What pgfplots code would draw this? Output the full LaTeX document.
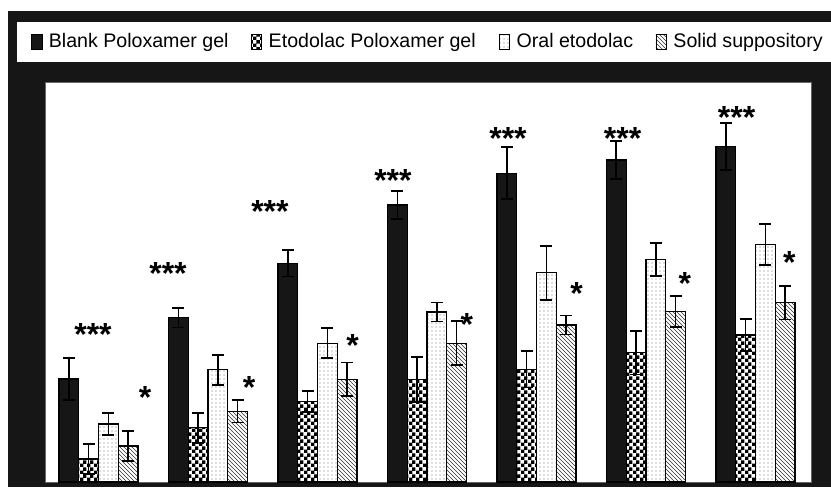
\documentclass[border=0pt]{standalone}
\usepackage{fontspec}
\setmainfont{Liberation Sans}
\usepackage{pgfplots}
\usepackage{pgfplotstable}
\pgfplotsset{compat=1.18}
\usetikzlibrary{patterns}
\definecolor{blk}{RGB}{22,22,22}
\pgfdeclarepatternformonly{mycheck}{\pgfpointorigin}{\pgfqpoint{5pt}{5pt}}{\pgfqpoint{5pt}{5pt}}{%
  \pgfpathrectangle{\pgfpointorigin}{\pgfqpoint{2.6pt}{2.6pt}}%
  \pgfpathrectangle{\pgfqpoint{2.5pt}{2.5pt}}{\pgfqpoint{2.6pt}{2.6pt}}%
  \pgfusepath{fill}}

\pgfplotstableread{
x y e
1 103.0 20.7
2 164.3 9.7
3 218.7 13.3
4 277.0 14.3
5 308.7 26.0
6 322.0 19.3
7 335.3 23.4
}\blank
\pgfplotstableread{
x y e
1 23.0 14.7
2 54.3 15.0
3 80.7 10.6
4 102.7 22.6
5 112.7 18.3
6 129.3 21.7
7 147.0 15.7
}\etogel
\pgfplotstableread{
x y e
1 58.0 11.0
2 112.3 15.0
3 138.7 15.0
4 170.0 9.5
5 209.3 27.0
6 222.3 16.5
7 237.7 20.5
}\oral
\pgfplotstableread{
x y e
1 36.0 15.0
2 70.7 11.3
3 102.7 16.8
4 138.7 22.0
5 157.0 9.5
6 170.3 15.5
7 179.3 16.8
}\supp

\begin{document}
\begin{tikzpicture}
\path (-33.75pt,-3.75pt) rectangle (589.5pt,361.5pt);
\fill[blk] (-27.75pt,-3.75pt) rectangle (589.5pt,353.25pt);
\fill[white] (-21pt,315pt) rectangle (589.5pt,345pt);
\begin{axis}[
  scale only axis, width=574.5pt, height=300pt,
  xmin=0.5114, xmax=7.507, ymin=0, ymax=400,
  axis background/.style={fill=white},
  axis line style={black!60, line width=0.5pt},
  xtick=\empty, ytick=\empty,
  ybar, bar width=0.1804,
  clip=false,
  myleg/.style={legend image code/.code={\draw[##1, line width=0.6pt] (0pt,-1pt) rectangle (7.9pt,10.3pt);}},
  myerr/.style={error bars/.cd, y dir=both, y explicit,
    error bar style={line width=1.3pt, black},
    error mark options={black, line width=1.3pt, mark size=4.5pt, rotate=90}},
  legend columns=4,
  legend style={at={(axis description cs:-0.01828,1.1007)}, anchor=west,
    draw=none, fill=none, inner sep=0pt, outer sep=0pt,
    font=\fontsize{14.7}{17}\selectfont,
    cells={anchor=base west},
    nodes={inner sep=0pt},
    /tikz/every odd column/.append style={column sep=4.9pt},
    /tikz/every even column/.append style={column sep=0pt}},
]
\addplot[bar shift=-0.2706, draw=black, line width=1.1pt, fill=blk, myleg, myerr]
  table[x=x, y=y, y error=e]{\blank};
\addlegendentry{\makebox[151.5pt][l]{Blank Poloxamer gel}}
\addplot[bar shift=-0.0902, draw=black, line width=1.1pt, pattern=mycheck, pattern color=black, myleg, myerr]
  table[x=x, y=y, y error=e]{\etogel};
\addlegendentry{\makebox[172.5pt][l]{Etodolac Poloxamer gel}}
\addplot[bar shift=0.0902, draw=black, line width=1.1pt, pattern=dots, pattern color=black!55, myleg, myerr]
  table[x=x, y=y, y error=e]{\oral};
\addlegendentry{\makebox[104.25pt][l]{Oral etodolac}}
\addplot[bar shift=0.2706, draw=black, line width=1.1pt, pattern=north west lines, pattern color=black!80, myleg, myerr]
  table[x=x, y=y, y error=e]{\supp};
\addlegendentry{Solid suppository}

\begin{scope}[every node/.style={font=\fontsize{24}{30}\selectfont\bfseries, anchor=north, inner sep=0pt}]
\node at (axis cs:0.95,159) {***};
\node at (axis cs:1.425,96) {*};
\node at (axis cs:1.635,220) {***};
\node at (axis cs:2.376,106) {*};
\node at (axis cs:2.566,282) {***};
\node at (axis cs:3.321,148) {*};
\node at (axis cs:3.689,313) {***};
\node at (axis cs:4.363,169) {*};
\node at (axis cs:4.740,355) {***};
\node at (axis cs:5.367,200) {*};
\node at (axis cs:5.787,355) {***};
\node at (axis cs:6.356,210) {*};
\node at (axis cs:6.828,376) {***};
\node at (axis cs:7.309,231) {*};
\end{scope}
\end{axis}
\end{tikzpicture}
\end{document}
